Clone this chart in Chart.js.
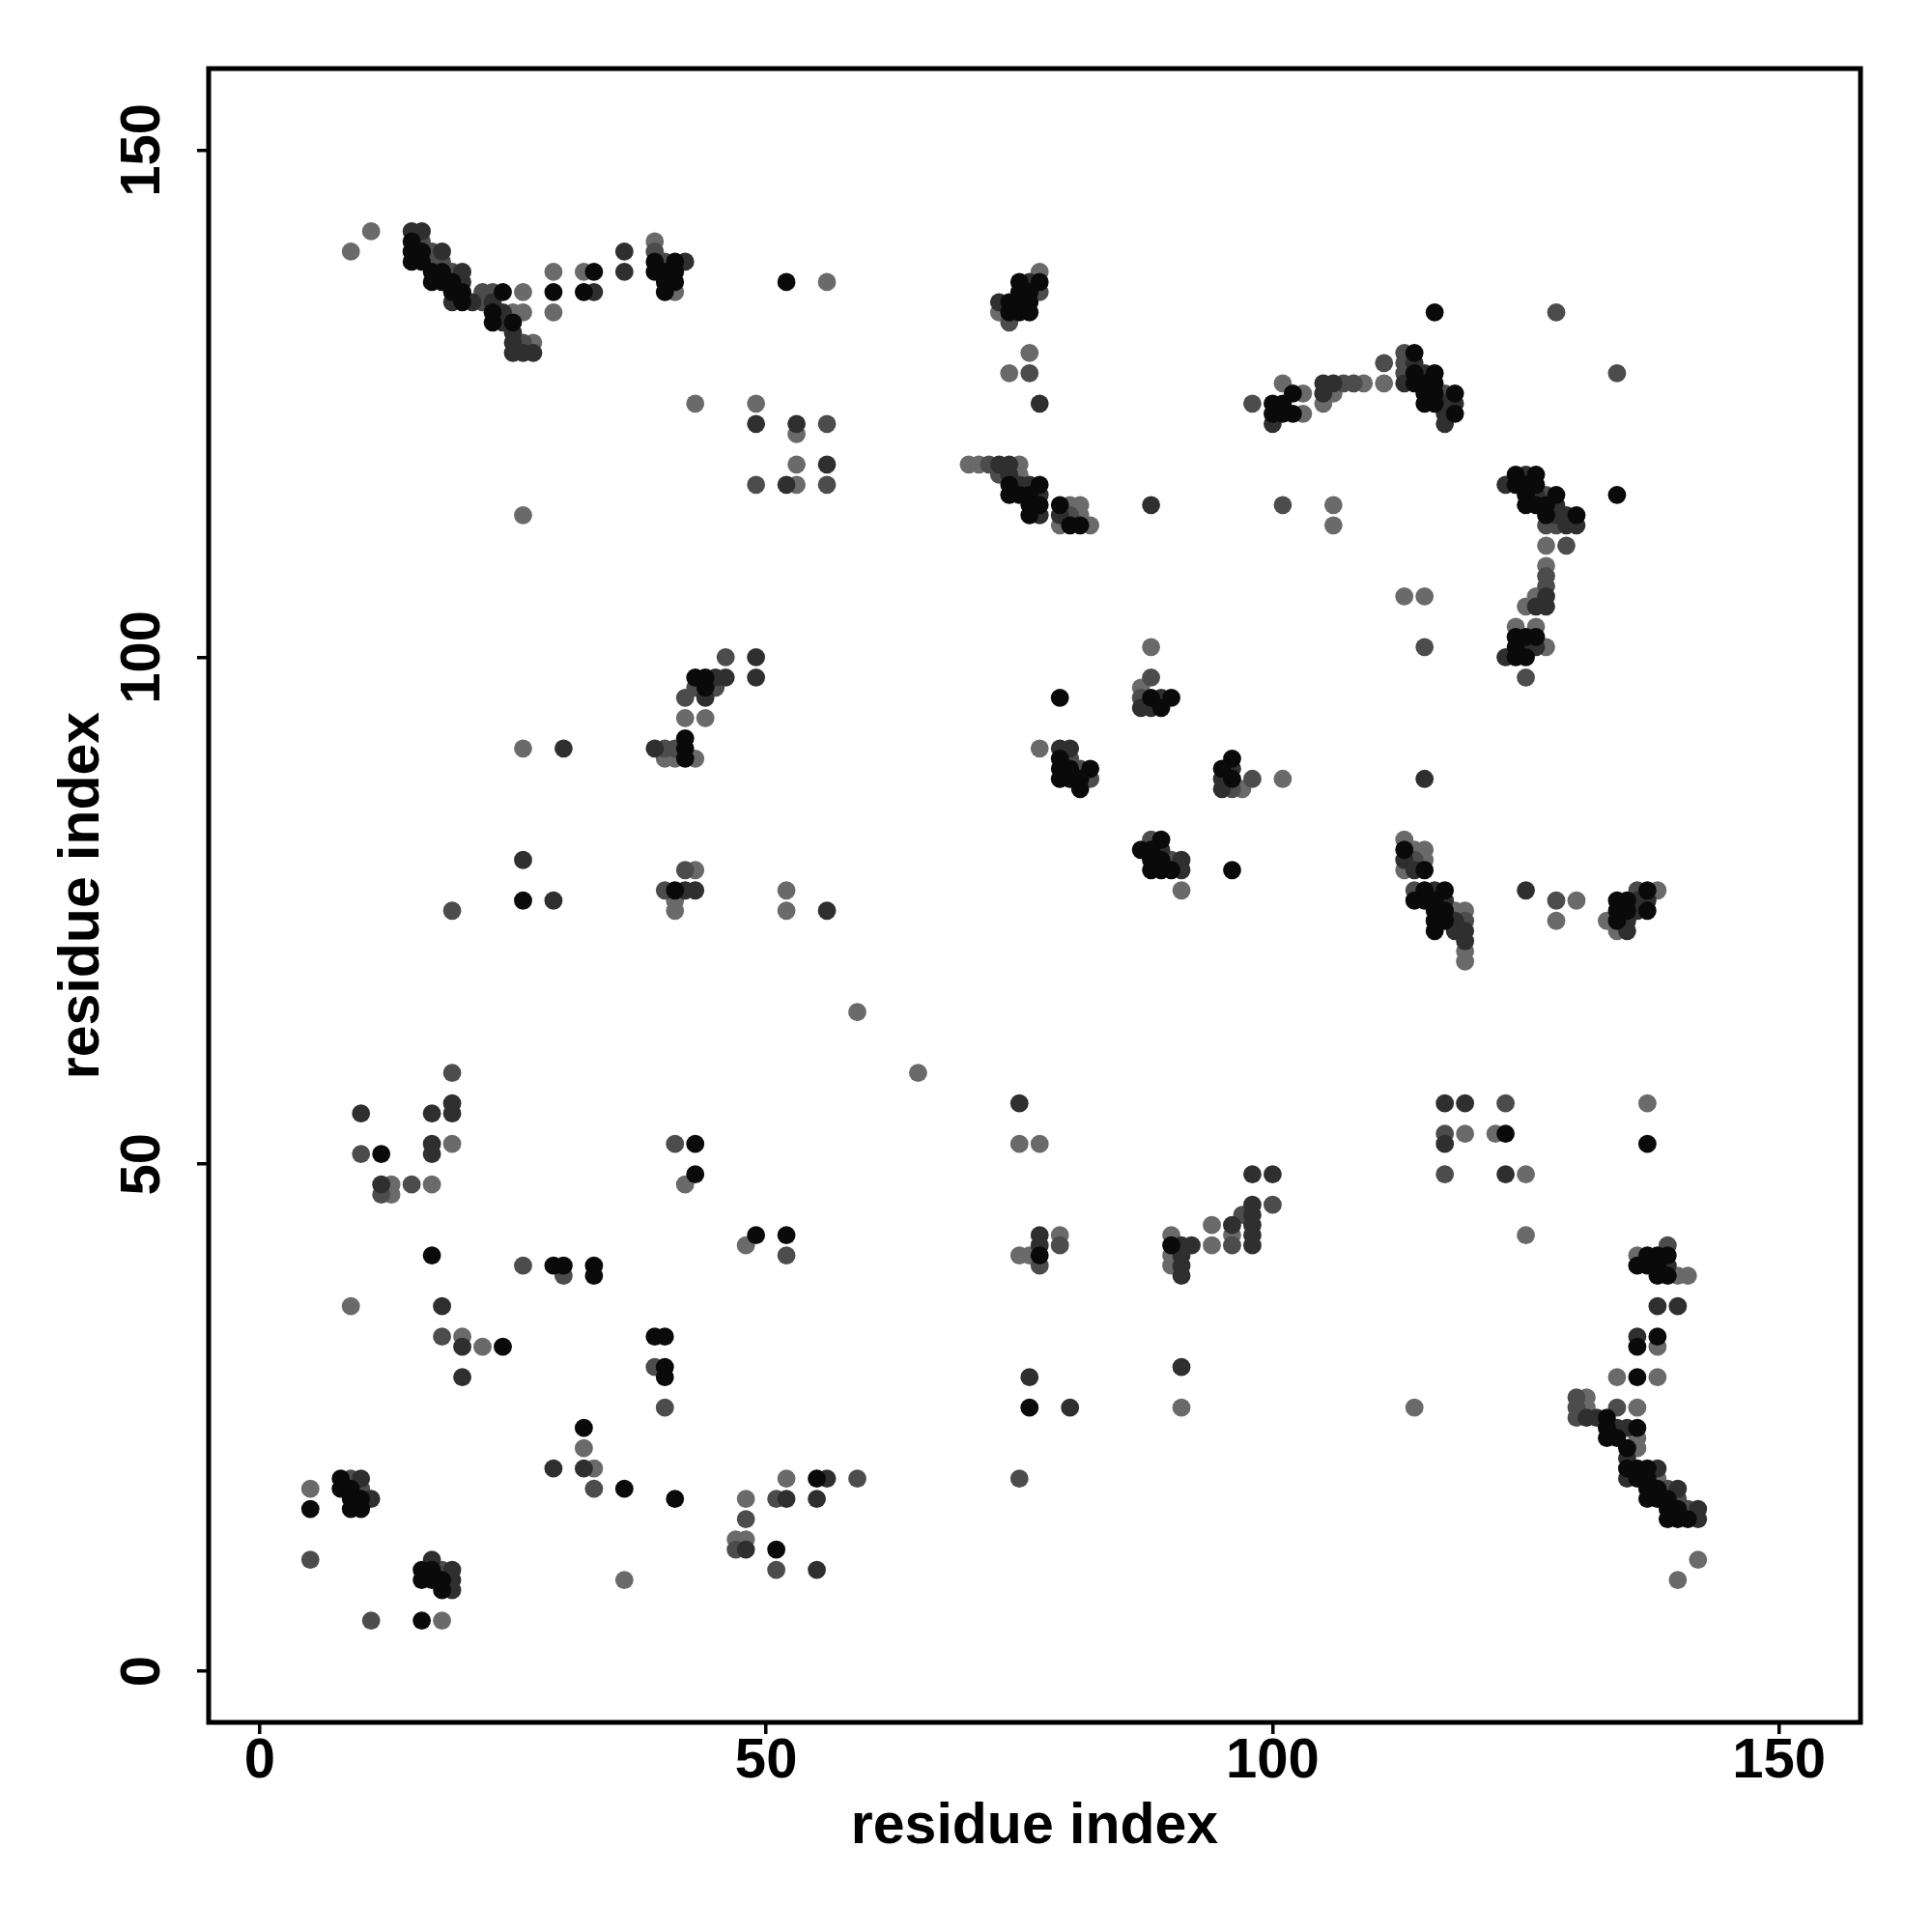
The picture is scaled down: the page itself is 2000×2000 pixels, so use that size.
<!DOCTYPE html>
<html>
<head>
<meta charset="utf-8">
<title>Contact map</title>
<script src="https://cdn.jsdelivr.net/npm/chart.js@4.4.1/dist/chart.umd.min.js"></script>
<style>
  html, body { margin: 0; padding: 0; background: #fff; }
  #wrap { width: 2000px; height: 2000px; }
</style>
</head>
<body>
<div id="wrap"><canvas id="contactChart" width="2000" height="2000"></canvas></div>
<script>
// residue pairs in contact, split by shade (i = x residue, j = y residue)
const blackI = [
  15,15,16,15,16,17,18,17,18,19,19,20,24,20,23,23,25,29,33,32,39,41,39,40,41,40,41,40,
  52,75,77,75,76,74,75,76,74,75,76,74,77,74,75,76,76,77,79,76,80,81,
  116,100,101,102,100,102,101,114,114,114,116,115,115,116,118,116,118,115,116,
  124,126,124,125,125,128,125,126,127,130,126,127,134,
  124,125,126,124,125,124,113,115,115,117,114,115,116,116,117,116,117,137,134,135,134,135,137,134,
  116,123,137,137,138,139,136,137,138,138,139,
  138,136,136,133,133,136,133,134,135,135,136,137,136,137,137,138,137,138,139,139,140,141,139,140,
  90,52,77,
  12,43,43,17,29,30,33,33,49,
  24,39,40,40,40,32,36,41,5,8,8,9,9,10,9,10,16,17,16,17,18,18,16,
  55,51,76,
  43,44,44,42,42,42,26,41,
  88,90,89,79,79,82,79,80,79,80,81,81,96,95,96,87,89,88,88,89,88,89,90,96
];
const blackJ = [
  141,140,140,139,139,138,138,137,137,137,136,136,136,135,134,133,133,136,138,136,139,139,138,138,138,137,137,136,
  137,137,137,136,136,135,135,135,134,134,134,117,117,116,116,116,115,115,115,114,113,113,
  134,125,125,126,124,124,124,130,127,128,128,126,125,126,126,125,124,127,127,
  118,118,117,117,116,116,115,115,114,114,117,115,116,
  102,102,102,100,100,101,81,79,77,77,76,76,76,75,75,74,74,77,76,76,75,75,75,74,
  73,53,52,41,41,41,40,40,40,39,39,
  33,32,29,25,24,24,23,23,22,20,20,20,19,19,18,18,17,17,17,15,15,15,16,16,
  42,43,41,
  51,52,49,41,40,40,40,39,43,
  32,33,33,30,29,24,18,17,16,19,18,18,17,17,16,16,10,10,9,9,9,8,5,
  19,12,26,
  98,98,97,92,91,90,76,77,
  96,96,95,96,90,89,89,89,88,88,88,87,90,89,88,81,82,81,80,80,79,79,79,79
];

const darkI = [
  15,16,18,20,20,19,21,23,24,24,25,25,25,26,27,33,36,36,42,49,
  76,73,77,53,56,52,73,74,74,75,76,77,77,79,88,
  100,105,106,105,113,114,115,117,118,117,117,123,125,126,128,128,129,129,130,
  127,127,126,123,125,126,115,113,114,116,117,118,125,136,137,136,135,
  118,119,119,135,117,119,117,123,98,100,98,98,98,98,139,
  138,140,136,131,132,134,135,135,138,135,140,142,142,
  75,96,98,91,92,91,91,91,77,77,
  10,17,19,19,17,17,12,
  18,20,20,29,32,10,11,17,19,19,19,48,
  56,52,55,55,76,80,91,
  49,49,45,46,44,39,30,26,29,42,43,
  87,89,88,79,80,96,95,95,89,91,91,56
];
const darkJ = [
  142,142,140,138,137,135,135,135,134,133,132,131,130,130,130,136,140,138,139,123,
  137,135,125,123,119,117,119,119,118,117,117,116,114,114,115,
  123,127,127,126,127,129,128,125,125,124,123,117,118,116,115,114,114,113,113,
  106,105,105,100,101,101,88,80,79,77,76,74,77,76,76,75,74,
  73,73,72,73,56,56,52,49,49,49,46,45,44,43,40,
  36,36,33,25,25,24,24,21,20,19,18,16,15,
  56,44,42,42,42,41,40,39,43,42,
  55,55,56,55,52,51,48,
  36,32,29,20,20,19,17,11,10,9,8,12,
  19,17,17,10,29,26,30,
  100,98,98,98,96,91,91,80,76,77,77,
  95,96,95,91,91,89,88,87,81,80,79,75
];

const midI = [
  16,17,17,18,19,22,23,22,26,39,40,49,
  77,74,76,98,56,56,72,73,80,
  128,134,107,108,111,113,113,113,117,101,127,127,128,129,
  127,127,115,125,114,114,119,128,136,
  123,117,117,100,139,
  130,130,130,134,139,140,141,
  96,97,79,52,77,
  19,10,12,15,41,26,30,
  18,39,40,33,9,10,5,18,11,48,47,
  59,51,51,75,
  46,42,43,45,40,41,19,42,40,
  88,87,80,81,82,96,98,88,90
];
const midJ = [
  141,140,139,139,138,136,136,135,131,140,139,117,
  136,133,128,125,123,117,119,118,114,
  134,128,127,127,129,130,129,128,126,115,116,113,113,111,
  108,107,101,98,80,77,74,76,77,
  56,53,49,46,42,
  27,26,25,26,18,17,16,
  42,45,42,41,40,
  59,51,47,48,52,40,39,
  33,30,26,18,19,18,11,10,5,15,12,
  19,17,10,19,
  100,96,97,97,91,91,75,79,77,
  98,96,90,89,88,87,88,82,80
];

const lightI = [
  9,11,26,25,26,27,29,29,32,39,41,43,49,26,
  56,77,73,76,74,53,53,53,70,71,75,75,80,81,81,79,82,
  101,103,103,109,111,106,105,106,106,127,127,
  126,125,113,115,124,126,127,101,113,114,115,115,113,118,119,130,128,138,133,
  119,119,134,119,122,125,125,137,136,140,141,
  138,134,138,114,131,131,136,136,136,138,142,140,
  59,65,75,77,94,94,96,90,90,90,79,75,76,
  19,13,13,17,42,48,
  9,20,22,32,33,5,18,36,48,47,48,
  52,91,
  42,44,40,41,43,26,43,41,41,
  88,87,77,97,91,52,52
];
const lightJ = [
  140,142,136,134,134,131,138,134,138,141,136,125,125,114,
  137,138,134,130,128,122,119,117,119,119,119,118,115,115,114,113,113,
  127,126,124,127,127,126,125,115,113,111,109,
  106,105,106,106,103,103,101,88,82,81,81,80,79,75,75,76,74,77,74,
  71,70,73,53,53,49,43,56,41,39,39,
  32,29,29,26,27,26,26,23,22,19,11,9,
  65,59,52,52,44,42,43,43,41,40,43,41,41,
  52,48,47,48,48,42,
  36,33,32,22,20,18,5,9,17,13,13,
  19,26,
  94,94,90,90,90,91,79,76,75,
  101,97,91,87,77,77,75
];

const axisTicks = [0, 50, 100, 150];
const axisTitle = "residue index";

function toPoints(xs, ys) {
  return xs.map((x, k) => ({ x: x, y: ys[k] }));
}

const FONT = '"Liberation Sans", Arial, Helvetica, sans-serif';
Chart.defaults.font.family = FONT;
Chart.defaults.color = "#000";

// box around the plot region
const frameBox = {
  id: "frameBox",
  afterDraw(chart) {
    const a = chart.chartArea, ctx = chart.ctx;
    ctx.save();
    ctx.strokeStyle = "#000";
    ctx.lineWidth = 5;
    ctx.strokeRect(a.left, a.top, a.right - a.left, a.bottom - a.top);
    ctx.restore();
  }
};

// y tick labels run along the axis like in R
const yTickText = {
  id: "yTickText",
  afterDraw(chart) {
    const ctx = chart.ctx, ys = chart.scales.y;
    ctx.save();
    ctx.font = "bold 58px " + FONT;
    ctx.fillStyle = "#000";
    ctx.textAlign = "center";
    ctx.textBaseline = "middle";
    axisTicks.forEach(v => {
      ctx.save();
      ctx.translate(149, ys.getPixelForValue(v));
      ctx.rotate(-Math.PI / 2);
      ctx.fillText(String(v), 0, 0);
      ctx.restore();
    });
    ctx.restore();
  }
};

const gridOpts = {
  display: true,
  drawOnChartArea: false,
  drawTicks: true,
  tickLength: 12,
  color: "#000",
  lineWidth: 3.5
};

function dotSet(label, xs, ys, colour) {
  return {
    label: label,
    data: toPoints(xs, ys),
    backgroundColor: colour,
    borderWidth: 0,
    pointRadius: 9.4,
    pointHoverRadius: 9.4
  };
}

new Chart(document.getElementById("contactChart").getContext("2d"), {
  type: "scatter",
  data: {
    datasets: [
      dotSet("black", blackI, blackJ, "#0a0a0a"),
      dotSet("dark", darkI, darkJ, "#2f2f2f"),
      dotSet("mid", midI, midJ, "#4c4c4c"),
      dotSet("light", lightI, lightJ, "#6a6a6a")
    ]
  },
  options: {
    responsive: false,
    devicePixelRatio: 1,
    animation: false,
    layout: { padding: { left: 50, right: 74, top: 71, bottom: 73 } },
    plugins: {
      legend: { display: false },
      tooltip: { enabled: false }
    },
    scales: {
      x: {
        type: "linear",
        min: -5.04,
        max: 158.04,
        afterBuildTicks(s) { s.ticks = axisTicks.map(v => ({ value: v })); },
        ticks: {
          includeBounds: false,
          autoSkip: false,
          maxRotation: 0,
          padding: 0,
          color: "#000",
          font: { size: 58, weight: "bold", lineHeight: 1 }
        },
        grid: gridOpts,
        border: { display: false },
        title: {
          display: true,
          text: axisTitle,
          color: "#000",
          padding: 0,
          font: { size: 59, weight: "bold" }
        },
        afterFit(s) { s.height = 144; }
      },
      y: {
        type: "linear",
        min: -5.04,
        max: 158.04,
        afterBuildTicks(s) { s.ticks = axisTicks.map(v => ({ value: v })); },
        ticks: { display: false },
        grid: gridOpts,
        border: { display: false },
        title: {
          display: true,
          text: axisTitle,
          color: "#000",
          padding: 0,
          font: { size: 59, weight: "bold" }
        },
        afterFit(s) { s.width = 166; }
      }
    }
  },
  plugins: [frameBox, yTickText]
});
</script>
</body>
</html>
